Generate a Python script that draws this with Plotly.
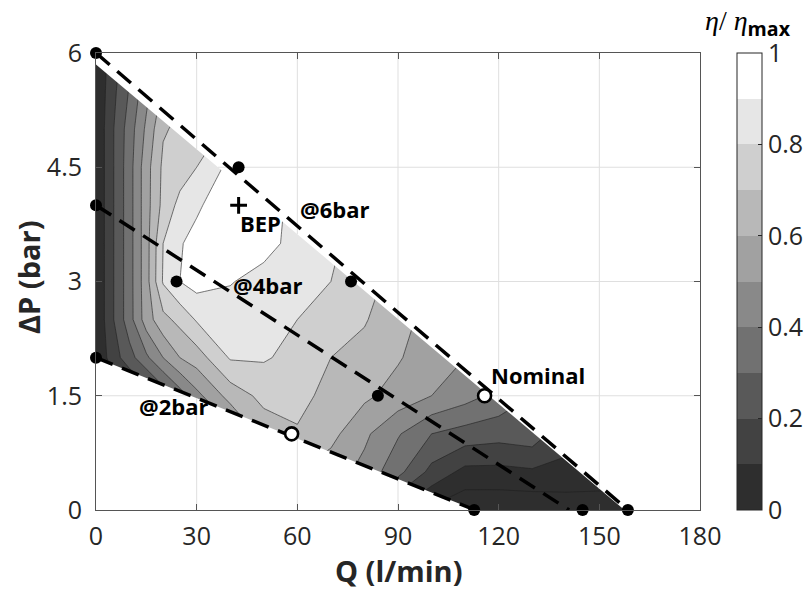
import numpy as np
import plotly.graph_objects as go

N = np.nan

# Measurement grid: flow rate Q (l/min) and pressure drop (bar)
flow_q = [0, 5, 10, 15, 20, 25, 30, 40, 50, 60, 70, 80, 90, 100, 110, 120, 130, 140, 150, 160]
dp_bar = [0, 0.5, 1, 1.5, 2, 2.5, 3, 3.5, 4, 4.5, 5, 5.5, 6]

# Normalised efficiency eta/eta_max, one row per pressure level (columns follow flow_q)
eff_dp00 = [N, N, N, N, N, N, N, N, N, N, N, N, 0.10, -0.02, -0.08, -0.08, -0.08, -0.07, -0.05, -0.04]
eff_dp05 = [N, N, N, N, N, N, N, N, N, 0.60, 0.55, 0.47, 0.33, 0.17, 0.07, 0.07, 0.085, 0.08, 0.05, N]
eff_dp10 = [N, N, N, N, N, N, 0.20, 0.45, 0.64, 0.69, 0.63, 0.52, 0.41, 0.30, 0.26, 0.24, 0.26, 0.13, N, N]
eff_dp15 = [0.01, 0.02, 0.05, 0.11, 0.23, 0.35, 0.47, 0.64, 0.73, 0.73, 0.67, 0.62, 0.56, 0.50, 0.44, 0.37, 0.30, N, N, N]
eff_dp20 = [0.01, 0.15, 0.26, 0.38, 0.50, 0.60, 0.65, 0.81, 0.81, 0.77, 0.70, 0.66, 0.61, 0.54, 0.50, N, N, N, N, N]
eff_dp25 = [0.01, 0.19, 0.36, 0.55, 0.67, 0.73, 0.81, 0.86, 0.85, 0.80, 0.76, 0.71, 0.62, 0.58, N, N, N, N, N, N]
eff_dp30 = [0.01, 0.19, 0.36, 0.56, 0.81, 0.90, 0.94, 0.905, 0.87, 0.85, 0.80, 0.75, 0.65, N, N, N, N, N, N, N]
eff_dp35 = [0.01, 0.19, 0.36, 0.56, 0.80, 0.89, 0.94, 0.96, 0.93, 0.87, 0.82, N, N, N, N, N, N, N, N, N]
eff_dp40 = [0.01, 0.19, 0.36, 0.56, 0.73, 0.83, 0.88, 0.99, 0.96, 0.86, N, N, N, N, N, N, N, N, N, N]
eff_dp45 = [0.01, 0.19, 0.36, 0.56, 0.72, 0.75, 0.80, 0.93, 0.90, N, N, N, N, N, N, N, N, N, N, N]
eff_dp50 = [0.01, 0.19, 0.35, 0.52, 0.69, 0.72, 0.75, N, N, N, N, N, N, N, N, N, N, N, N, N]
eff_dp55 = [0.01, 0.17, 0.31, 0.47, 0.62, N, N, N, N, N, N, N, N, N, N, N, N, N, N, N]
eff_dp60 = [0.01, 0.15, 0.27, N, N, N, N, N, N, N, N, N, N, N, N, N, N, N, N, N]

eff_rows = [eff_dp00, eff_dp05, eff_dp10, eff_dp15, eff_dp20, eff_dp25, eff_dp30,
            eff_dp35, eff_dp40, eff_dp45, eff_dp50, eff_dp55, eff_dp60]

# Operating envelope (edges of the mapped area)
edge_top_q = [0, 157.5]
edge_top_p = [5.85, 0]
edge_low_q = [0, 113]
edge_low_p = [2.0, 0]

# Constant-pressure supply lines
line6_q, line6_p = [0, 158.5], [6, 0]
line4_q, line4_p = [0, 141], [4, 0]
line2_q, line2_p = [0, 113], [2, 0]

# Measured operating points
pts_q = [0, 42.5, 0, 24, 76, 0, 84, 112.7, 145, 158.5]
pts_p = [6, 4.5, 4, 3, 3, 2, 1.5, 0, 0, 0]
open_q = [58.3, 115.8]
open_p = [1.0, 1.5]
bep_q, bep_p = [42.5], [4.0]

# Ticks
q_ticks = [0, 30, 60, 90, 120, 150, 180]
p_ticks = [0, 1.5, 3, 4.5, 6]
p_ticklabels = ["0", "1.5", "3", "4.5", "6"]
cb_ticks = [0, 0.2, 0.4, 0.6, 0.8, 1]
cb_ticklabels = ["0", "0.2", "0.4", "0.6", "0.8", "1"]

# Grey bands, darkest (0-0.1) to white (0.9-1)
band_grey = [46, 66, 89, 113, 137, 161, 184, 207, 230, 255]
band_col = ["rgb({0},{0},{0})".format(g) for g in band_grey]

# Contour fill scale: first stop is the region below the 0 level
fill_scale = [[0.0, band_col[0]]] + [[(i + 1) / 10, band_col[i]] for i in range(10)]
# Stepped scale for the colour bar
bar_scale = []
for i, c in enumerate(band_col):
    bar_scale += [[i / 10, c], [(i + 1) / 10, c]]

fig = go.Figure()

fig.add_trace(go.Contour(
    x=flow_q, y=dp_bar, z=eff_rows,
    connectgaps=True, autocontour=False,
    contours=dict(start=0, end=0.9, size=0.1, coloring="fill", showlines=True),
    colorscale=fill_scale, showscale=False,
    line=dict(color="#1e1e1e", width=0.6, smoothing=0),
    hoverinfo="skip",
))

# White out everything outside the operating envelope
fig.add_trace(go.Scatter(
    x=[edge_top_q[0], edge_top_q[1], 180, 180, 0],
    y=[edge_top_p[0], edge_top_p[1], 0, 6, 6],
    fill="toself", fillcolor="white", mode="lines", line=dict(width=0),
    hoverinfo="skip",
))
fig.add_trace(go.Scatter(
    x=[edge_low_q[0], edge_low_q[1], 0],
    y=[edge_low_p[0], edge_low_p[1], 0],
    fill="toself", fillcolor="white", mode="lines", line=dict(width=0),
    hoverinfo="skip",
))

# Grid lines, visible only outside the filled area
gx, gy = [], []
for q in q_ticks[1:-1]:
    top = float(np.interp(q, edge_top_q, edge_top_p))
    gx += [q, q, None]
    gy += [top, 6, None]
    low = float(np.interp(q, edge_low_q, edge_low_p))
    if low > 0:
        gx += [q, q, None]
        gy += [0, low, None]
for p in p_ticks[1:-1]:
    q_top = float(np.interp(p, edge_top_p[::-1], edge_top_q[::-1]))
    gx += [q_top, 180, None]
    gy += [p, p, None]
    if p < edge_low_p[0]:
        q_low = float(np.interp(p, edge_low_p[::-1], edge_low_q[::-1]))
        gx += [0, q_low, None]
        gy += [p, p, None]
fig.add_trace(go.Scatter(x=gx, y=gy, mode="lines",
                         line=dict(color="#dfdfdf", width=1), hoverinfo="skip"))

dash = dict(color="black", width=3.5, dash="18px,10px")
for lq, lp in [(line6_q, line6_p), (line4_q, line4_p), (line2_q, line2_p)]:
    fig.add_trace(go.Scatter(x=lq, y=lp, mode="lines", line=dash, hoverinfo="skip"))

fig.add_trace(go.Scatter(
    x=pts_q, y=pts_p, mode="markers", cliponaxis=False,
    marker=dict(color="black", size=12, line=dict(width=0)), hoverinfo="skip",
))
fig.add_trace(go.Scatter(
    x=open_q, y=open_p, mode="markers", cliponaxis=False,
    marker=dict(color="white", size=13, line=dict(color="black", width=2.6)), hoverinfo="skip",
))
fig.add_trace(go.Scatter(
    x=bep_q, y=bep_p, mode="markers",
    marker=dict(symbol="cross-thin", size=12, line=dict(color="black", width=3)), hoverinfo="skip",
))

# Colour bar
fig.add_trace(go.Scatter(
    x=[None, None], y=[None, None], mode="markers",
    marker=dict(color=[0, 1], cmin=0, cmax=1, colorscale=bar_scale, showscale=True,
                colorbar=dict(
                    x=(737 - 96) / 604, xanchor="left", xpad=0,
                    y=0.5, yanchor="middle", ypad=0, len=1, lenmode="fraction",
                    thickness=25, outlinewidth=1, outlinecolor="#262626",
                    tickvals=cb_ticks, ticktext=cb_ticklabels,
                    ticks="inside", ticklen=4, tickcolor="#262626",
                    tickfont=dict(family="Open Sans", size=25, color="#262626"),
                )),
    hoverinfo="skip",
))

label_font = dict(family="Open Sans", size=22, color="black")
labels = [("@6bar", 60.3, 3.95), ("BEP", 42.4, 3.77), ("@4bar", 40.1, 2.95),
          ("@2bar", 12.2, 1.365), ("Nominal", 117.2, 1.77)]
for txt, lx, ly in labels:
    fig.add_annotation(x=lx, y=ly, text="<b>" + txt + "</b>", showarrow=False,
                       xanchor="left", yanchor="middle", font=label_font)

title_font = dict(family="Open Sans", size=29, color="#262626")
fig.add_annotation(x=0.5, y=-(570 - 510) / 457, xref="paper", yref="paper",
                   text="<b>Q (l/min)</b>", showarrow=False,
                   xanchor="center", yanchor="middle", font=title_font)
fig.add_annotation(x=(28 - 96) / 604, y=(510 - 277) / 457, xref="paper", yref="paper",
                   text="<b>ΔP (bar)</b>", showarrow=False, textangle=-90,
                   xanchor="center", yanchor="middle", font=title_font)
fig.add_annotation(x=(748 - 96) / 604, y=(510 - 23) / 457, xref="paper", yref="paper",
                   text=('<span style="font-family:Liberation Serif"><i>η</i>/ <i>η</i></span>'
                         '<sub><b>max</b></sub>'),
                   showarrow=False, xanchor="center", yanchor="middle", borderpad=0,
                   font=dict(family="Open Sans", size=28, color="black"))

axis_common = dict(
    ticks="inside", ticklen=6, tickcolor="#555555", tickwidth=1,
    showline=True, linecolor="#555555", linewidth=1, mirror="ticks",
    showgrid=False, zeroline=False,
    tickfont=dict(family="Open Sans", size=25, color="#262626"),
)
fig.update_xaxes(range=[0, 180], tickvals=q_ticks, ticklabelstandoff=4, **axis_common)
fig.update_yaxes(range=[0, 6], tickvals=p_ticks, ticktext=p_ticklabels,
                 ticklabelstandoff=8, **axis_common)

fig.update_layout(
    width=806, height=589,
    margin=dict(l=96, r=106, t=53, b=79, autoexpand=False),
    paper_bgcolor="white", plot_bgcolor="white",
    showlegend=False,
    font=dict(family="Open Sans", color="#262626"),
)

fig.write_html("out.html", post_script="document.body.style.margin='0';")
